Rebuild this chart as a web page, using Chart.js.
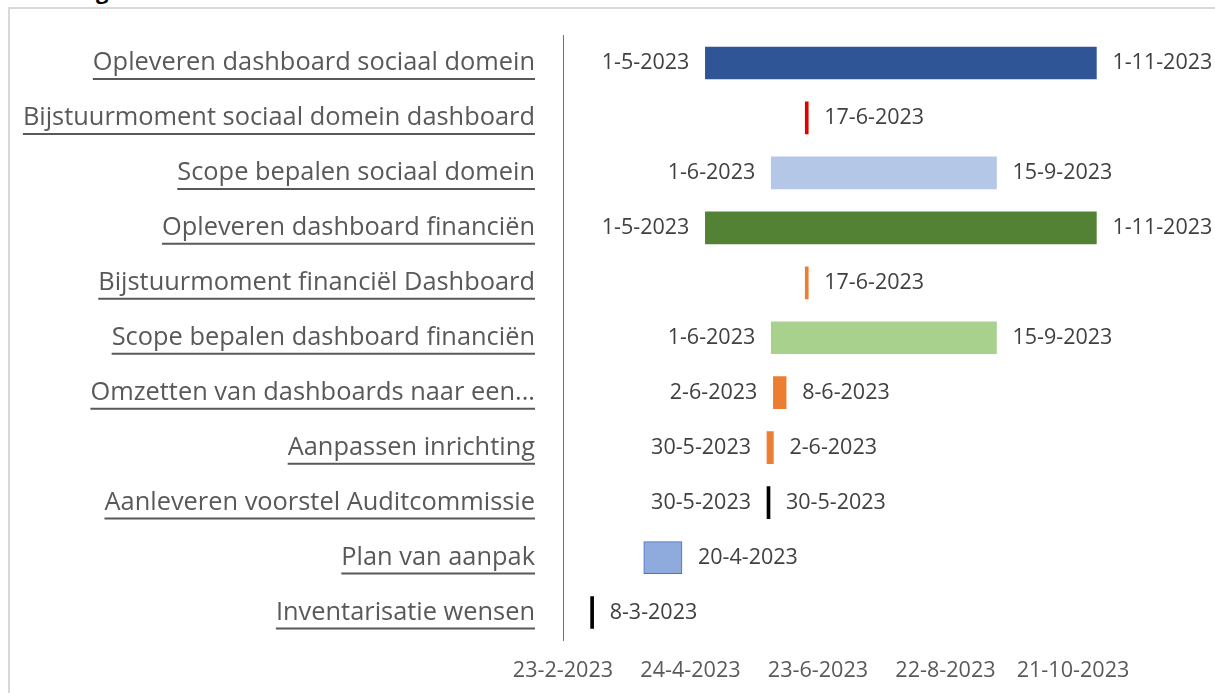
<!DOCTYPE html>
<html>
<head>
<meta charset="utf-8">
<script src="https://cdn.jsdelivr.net/npm/chart.js@4.4.1/dist/chart.umd.min.js"></script>
<style>
  html, body { margin: 0; padding: 0; background: #fff; overflow: hidden; }
  #wrap { position: relative; width: 1215px; height: 693px; }
  #frame { position: absolute; left: 8px; top: 7px; width: 1230px; height: 720px;
           border-left: 2px solid #D9D9D9; border-top: 2px solid #D9D9D9; box-sizing: border-box; }
  #title { position: absolute; left: 12px; top: -25px; font: bold 22px "Open Sans", sans-serif; color: #000; }
  canvas { position: absolute; left: 0; top: 0; }
</style>
</head>
<body>
<div id="wrap">
  <div id="title">Planning</div>
  <div id="frame"></div>
  <canvas id="c" width="1215" height="693"></canvas>
</div>
<script>
// ---- data ----
const tasks = [
  'Opleveren dashboard sociaal domein',
  'Bijstuurmoment sociaal domein dashboard',
  'Scope bepalen sociaal domein',
  'Opleveren dashboard financiën',
  'Bijstuurmoment financiël Dashboard',
  'Scope bepalen dashboard financiën',
  'Omzetten van dashboards naar een...',
  'Aanpassen inrichting',
  'Aanleveren voorstel Auditcommissie',
  'Plan van aanpak',
  'Inventarisatie wensen'
];
const startDates = ['1-5-2023','17-6-2023','1-6-2023','1-5-2023','17-6-2023','1-6-2023','2-6-2023','30-5-2023','30-5-2023','2-4-2023','8-3-2023'];
const endDates   = ['1-11-2023','17-6-2023','15-9-2023','1-11-2023','17-6-2023','15-9-2023','8-6-2023','2-6-2023','30-5-2023','20-4-2023','8-3-2023'];
const showStartLabel = [true,false,true,true,false,true,true,true,true,false,false];
const barColors = ['#2F5597','#E00000','#B4C7E7','#548235','#ED7D31','#A9D18E','#ED7D31','#ED7D31','#000000','#8FAADC','#000000'];
const barBorders = ['#2F5597','#E00000','#B4C7E7','#548235','#ED7D31','#A9D18E','#ED7D31','#ED7D31','#000000','#4472C4','#000000'];
const xTickLabels = ['23-2-2023','24-4-2023','23-6-2023','22-8-2023','21-10-2023'];
const axisMinDate = '23-2-2023';
const axisMaxDate = '30-11-2023';

// ---- helpers ----
function toDay(s) { const [d, m, y] = s.split('-').map(Number); return Date.UTC(y, m - 1, d) / 86400000; }
function fmt(day) { const dt = new Date(day * 86400000); return dt.getUTCDate() + '-' + (dt.getUTCMonth() + 1) + '-' + dt.getUTCFullYear(); }

const values = tasks.map((t, i) => [toDay(startDates[i]), toDay(endDates[i])]);

const FONT = '"Open Sans", sans-serif';
const CAT_SIZE = 25.4;

const labelPlugin = {
  id: 'ganttLabels',
  afterDatasetsDraw(chart) {
    const ctx = chart.ctx;
    const meta = chart.getDatasetMeta(0);
    ctx.save();
    ctx.font = '21.5px ' + FONT;
    ctx.fillStyle = '#404040';
    ctx.textBaseline = 'middle';
    meta.data.forEach((el, i) => {
      const left = Math.min(el.x, el.base), right = Math.max(el.x, el.base);
      if (showStartLabel[i]) {
        ctx.textAlign = 'right';
        ctx.fillText(fmt(values[i][0]), left - 16, el.y);
      }
      ctx.textAlign = 'left';
      ctx.fillText(fmt(values[i][1]), right + 16, el.y);
    });
    ctx.restore();
  },
  afterDraw(chart) {
    // underline the category labels (hyperlink look)
    const ctx = chart.ctx;
    const y = chart.scales.y;
    ctx.save();
    ctx.font = CAT_SIZE + 'px ' + FONT;
    ctx.strokeStyle = '#595959';
    ctx.lineWidth = 2;
    const rightEdge = y.right - 28;
    y.ticks.forEach((t, i) => {
      const py = y.getPixelForTick(i);
      const w = ctx.measureText(tasks[t.value]).width;
      ctx.beginPath();
      ctx.moveTo(rightEdge - w, py + 16);
      ctx.lineTo(rightEdge, py + 16);
      ctx.stroke();
    });
    ctx.restore();
  }
};

new Chart(document.getElementById('c'), {
  type: 'bar',
  data: {
    labels: tasks,
    datasets: [{
      data: values,
      backgroundColor: barColors,
      borderColor: barBorders,
      borderWidth: tasks.map((t, i) => (i === 9 ? 1 : 0)),
      borderSkipped: false,
      barThickness: 32,
      minBarLength: 3
    }]
  },
  options: {
    indexAxis: 'y',
    responsive: false,
    animation: false,
    events: [],
    layout: { padding: { top: 35.5, right: 57, left: 0, bottom: 0 } },
    plugins: { legend: { display: false }, tooltip: { enabled: false }, title: { display: false } },
    scales: {
      y: {
        type: 'category',
        afterFit(s) { s.width = 563; s.paddingTop = 0; s.paddingBottom = 0; },
        grid: { display: false, drawTicks: false },
        border: { display: true, color: '#4472C4', width: 1 },
        ticks: { font: { family: FONT, size: CAT_SIZE }, color: '#595959', padding: 28, autoSkip: false }
      },
      x: {
        type: 'linear',
        min: toDay(axisMinDate),
        max: toDay(axisMaxDate),
        afterFit(s) { s.height = 53; },
        afterBuildTicks(s) { s.ticks = xTickLabels.map(l => ({ value: toDay(l) })); },
        grid: { display: false, drawTicks: false },
        border: { display: false },
        ticks: { font: { family: FONT, size: 21.6 }, color: '#595959', padding: 18, maxRotation: 0, autoSkip: false,
                 callback: (v) => fmt(v) }
      }
    }
  },
  plugins: [labelPlugin]
});
</script>
</body>
</html>
